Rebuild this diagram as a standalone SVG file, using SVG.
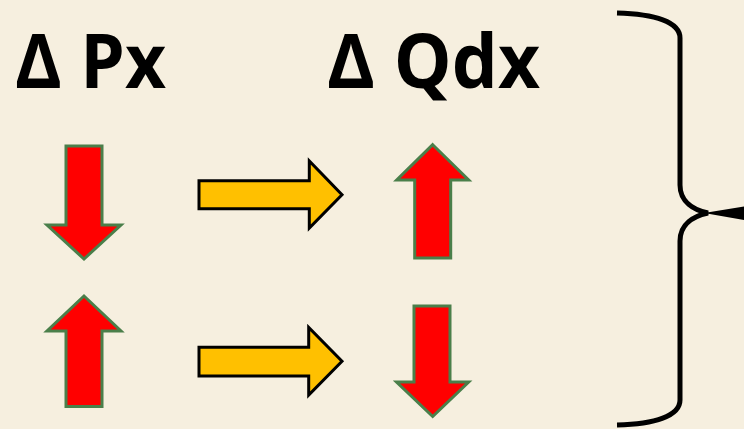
<svg xmlns="http://www.w3.org/2000/svg" width="744" height="429" viewBox="0 0 744 429">
<style>
.bg{fill:#F6EFDF}
.red{fill:#FF0000;stroke:#4A7F4A;stroke-width:3;stroke-linejoin:miter}
.yel{fill:#FFC000;stroke:#000;stroke-width:3;stroke-linejoin:miter}
.lbl{font-family:"Open Sans","Noto Sans","Liberation Sans",sans-serif;font-weight:bold;font-size:76px;fill:#000}
.brace{fill:none;stroke:#000;stroke-width:5;stroke-linecap:butt}
</style>
<rect class="bg" x="0" y="0" width="744" height="429"/>
<g id="label-px"><text class="lbl" x="15" y="88" textLength="151" lengthAdjust="spacingAndGlyphs">Δ Px</text></g>
<g id="label-qdx"><text class="lbl" x="327" y="88" textLength="213" lengthAdjust="spacingAndGlyphs">Δ Qdx</text></g>
<g id="px-down"><polygon class="red" points="66,146 102,146 102,225 121,225 84,259 47,225 66,225"/></g>
<g id="px-up"><polygon class="red" points="84,296 121,331 102,331 102,406.5 66,406.5 66,331 47,331"/></g>
<g id="qdx-up"><polygon class="red" points="432.7,144.7 468.7,180 450.7,180 450.7,258 414.7,258 414.7,180 396.7,180"/></g>
<g id="qdx-down"><polygon class="red" points="414,306 450,306 450,382 468.7,382 432.7,416.5 396.5,382 414,382"/></g>
<g id="connectors">
<polygon class="yel" points="199,180.7 309.3,180.7 309.3,161 342,194.7 309.3,228 309.3,208.7 199,208.7"/>
<polygon class="yel" points="199,347.3 308.7,347.3 308.7,327.5 342,361.3 308.7,395 308.7,376 199,376"/>
</g>
<g id="brace">
<path class="brace" d="M617,13 C655,14 680,22 680,38 L680,185 C680,202 694,210 708,213 C694,216 680,224 680,241 L680,400 C680,416 655,424 617,425"/>
<path d="M704,213 L744,206.5 L744,220 Z" fill="#000"/>
</g>
</svg>
